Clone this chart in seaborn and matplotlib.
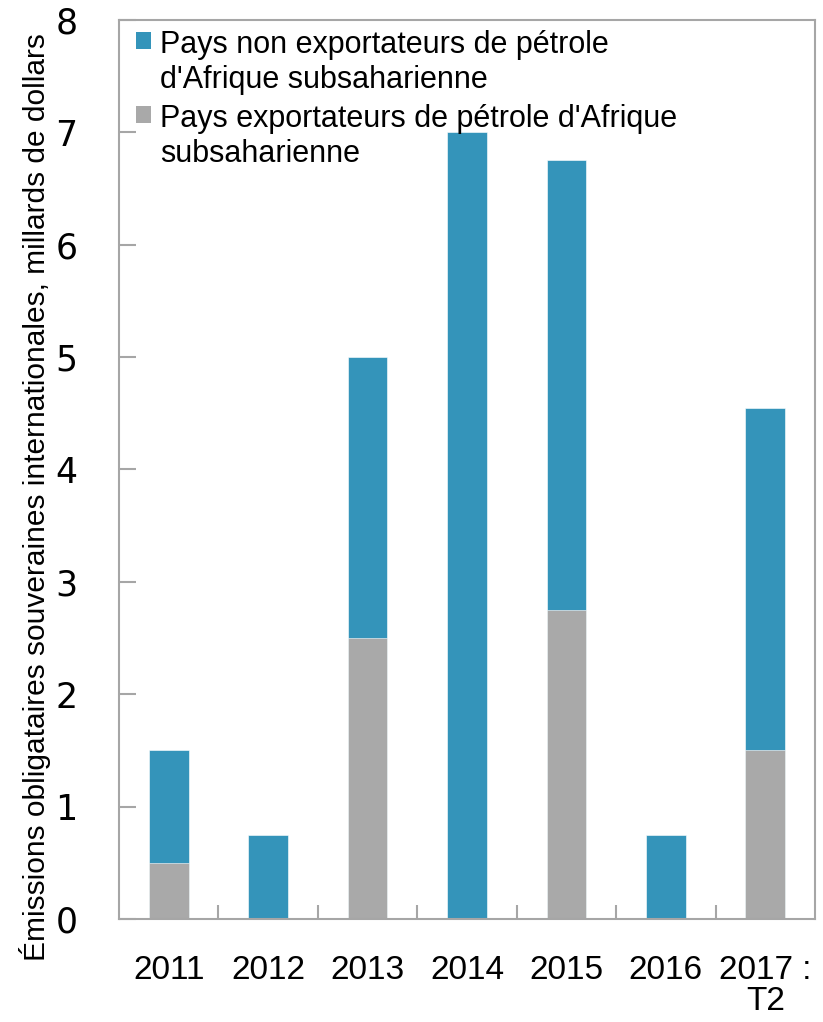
import matplotlib
matplotlib.use("Agg")
import matplotlib.pyplot as plt
import seaborn as sns
import numpy as np
import pandas as pd
from matplotlib.patches import Rectangle

years = ["2011", "2012", "2013", "2014", "2015", "2016", "2017 :\nT2"]
exporters = [0.5, 0.0, 2.5, 0.0, 2.75, 0.0, 1.5]
non_exporters = [1.0, 0.75, 2.5, 7.0, 4.0, 0.75, 3.05]
yticks = [0, 1, 2, 3, 4, 5, 6, 7, 8]
label_non = "Pays non exportateurs de pétrole\nd'Afrique subsaharienne"
label_exp = "Pays exportateurs de pétrole d'Afrique\nsubsaharienne"
ylabel = "Émissions obligataires souveraines internationales, millards de dollars"

blue = "#3494BA"
gray = "#A9A9A9"
spine_c = "#A6A6A6"

sns.set_theme(style="white")
plt.rcParams['font.family'] = ['Liberation Sans', 'DejaVu Sans']
plt.rcParams['text.color'] = 'black'
plt.rcParams['axes.labelcolor'] = 'black'
plt.rcParams['xtick.color'] = 'black'
plt.rcParams['ytick.color'] = 'black'

df = pd.DataFrame({"year": years, "exp": exporters, "non": non_exporters})
df["total"] = df["exp"] + df["non"]

W, H = 823, 1022
fig = plt.figure(figsize=(W / 100, H / 100), dpi=100)
ax = fig.add_axes([119 / W, 1 - 919 / H, 696 / W, 899 / H])

sns.barplot(data=df, x="year", y="total", color=blue, saturation=1, width=0.4,
            edgecolor="white", linewidth=0.4, ax=ax)
sns.barplot(data=df, x="year", y="exp", color=gray, saturation=1, width=0.4,
            edgecolor="white", linewidth=0.4, ax=ax)

ax.set_xlim(-0.5, len(years) - 0.5)
ax.set_ylim(0, 8)
ax.set_yticks(yticks)
ax.set_yticklabels([str(t) for t in yticks], fontsize=25, family=['DejaVu Sans'])
ax.set_xlabel("")
ax.set_ylabel(ylabel, fontsize=21.5)
ax.yaxis.set_label_coords(-0.097, 0.469)

for s in ax.spines.values():
    s.set_visible(True)
    s.set_color(spine_c)
    s.set_linewidth(1.5)

ax.tick_params(axis="y", direction="in", length=12, width=1.5, color=spine_c,
               labelcolor="black", pad=30, left=True)
ax.tick_params(axis="x", which="major", length=0, pad=26, labelsize=24,
               labelcolor="black")
ax.set_xticks(np.arange(0.5, len(years) - 1, 1), minor=True)
ax.tick_params(axis="x", which="minor", direction="in", length=10, width=1.5,
               color=spine_c, bottom=True)
for lab in ax.get_xticklabels():
    lab.set_linespacing(1.0)

# legend (manual, squares aligned with first line of each label)
tr = fig.transFigure
for col, lab, ytop in [(blue, label_non, 30), (gray, label_exp, 104)]:
    fig.patches.append(Rectangle((136 / W, 1 - (ytop + 19) / H), 15 / W, 17 / H,
                                 transform=tr, facecolor=col, edgecolor="none"))
    fig.text(160 / W, 1 - ytop / H, lab, fontsize=22, va="top", ha="left",
             linespacing=1.22, color="black")

fig.savefig("out.png", dpi=100)
